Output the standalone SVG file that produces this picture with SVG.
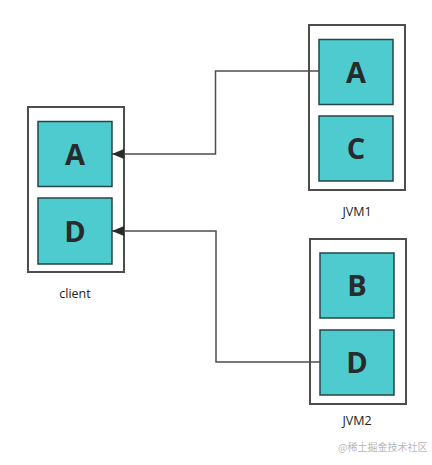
<svg xmlns="http://www.w3.org/2000/svg" width="432" height="465" viewBox="0 0 432 465">
<style>
.outer{fill:#fff;stroke:#4d4d4d;stroke-width:2}
.inner{fill:#4ecbcf;stroke:#24454b;stroke-width:1.5}
.big{font-family:"Open Sans","DejaVu Sans",sans-serif;font-weight:bold;font-size:29px;fill:#262b2c;text-anchor:middle}
.lbl{font-family:"Open Sans","DejaVu Sans",sans-serif;font-size:12.5px;fill:#222;text-anchor:middle}
.wm{font-family:"Noto Sans CJK SC",sans-serif;font-size:10px;fill:#b8b8b8}
.conn{fill:none;stroke:#4d4d4d;stroke-width:1.5}
</style>
<defs>
<marker id="arr" viewBox="0 0 12 10" refX="12" refY="5" markerWidth="12" markerHeight="10" markerUnits="userSpaceOnUse" orient="auto">
<path d="M12,5 L0,0 L0,10 Z" fill="#2b2b2b"/>
</marker>
</defs>
<rect width="432" height="465" fill="#fff"/>
<g id="client">
<rect class="outer" x="28" y="107" width="96" height="165"/>
<g id="client-A"><rect class="inner" x="38" y="121.5" width="74" height="65"/><text class="big" x="75" y="164.5">A</text></g>
<g id="client-D"><rect class="inner" x="38" y="198" width="74" height="66"/><text class="big" x="75" y="241.5">D</text></g>
<text class="lbl" x="75" y="298">client</text>
</g>
<g id="jvm1">
<rect class="outer" x="309" y="25" width="96" height="165"/>
<g id="jvm1-A"><rect class="inner" x="319" y="39.5" width="74" height="65"/><text class="big" x="356" y="82.5">A</text></g>
<g id="jvm1-C"><rect class="inner" x="319" y="116" width="74" height="65"/><text class="big" x="356" y="159">C</text></g>
<text class="lbl" x="357" y="216">JVM1</text>
</g>
<g id="jvm2">
<rect class="outer" x="310" y="239" width="96" height="165"/>
<g id="jvm2-B"><rect class="inner" x="320" y="253" width="74" height="65"/><text class="big" x="357" y="296">B</text></g>
<g id="jvm2-D"><rect class="inner" x="320" y="330" width="74" height="65"/><text class="big" x="357" y="373">D</text></g>
<text class="lbl" x="357" y="425">JVM2</text>
</g>
<g id="connectors">
<path class="conn" d="M319,71 H215.5 V154 H112" marker-end="url(#arr)"/>
<path class="conn" d="M320,362 H216 V231 H112" marker-end="url(#arr)"/>
</g>
<text class="wm" x="338" y="451">@稀土掘金技术社区</text>
</svg>
